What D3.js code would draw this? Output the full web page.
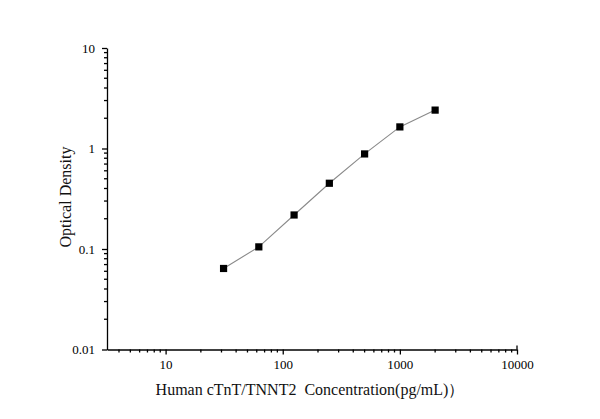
<!DOCTYPE html>
<html lang="en">

<head>
  <meta charset="UTF-8">
  <script src="https://cdn.jsdelivr.net/npm/d3@7"></script>
  <title>Standard curve</title>
  <style>
    body {
      margin: 0;
      background: white;
    }

    text {
      font-family: "Liberation Serif", "Times New Roman", serif;
      fill: #111;
      white-space: pre;
    }

    .axis path,
    .axis line {
      stroke: #000;
      stroke-width: 1.3;
    }
  </style>
</head>

<body>

  <script>
    // standard curve points
    const concentration = [31.25, 62.5, 125, 250, 500, 1000, 2000];
    const density = [0.064, 0.105, 0.218, 0.451, 0.883, 1.64, 2.41];
    const xTicks = [10, 100, 1000, 10000];
    const yTicks = [0.01, 0.1, 1, 10];

    const width = 600, height = 419;
    const serif = '"Liberation Serif", "Times New Roman", serif';
    const svg = d3.select('body').append('svg')
      .attr('width', width)
      .attr('height', height)

    const x = d3.scaleLog().domain([3.16, 10000]).range([107, 517]);
    const y = d3.scaleLog().domain([0.01, 10]).range([349.5, 48]);

    // minor ticks 2..9 of each decade
    const minor = (lo, hi) => {
      const out = [];
      for (let p = Math.floor(Math.log10(lo)); p < Math.log10(hi); p++) {
        for (let k = 2; k < 10; k++) {
          const v = k * Math.pow(10, p);
          if (v >= lo && v <= hi) out.push(v);
        }
      }
      return out;
    };

    /******************** axes ********************/
    const xAxis = svg.append('g').attr('class', 'axis')
      .attr('transform', `translate(0,${y.range()[0]})`)
      .call(d3.axisBottom(x).tickValues(xTicks).tickSize(5).tickSizeOuter(0).tickFormat(d3.format('d')))
      .attr('font-family', serif).attr('font-size', 13);
    xAxis.selectAll('text').attr('dy', '0.86em').style('fill', '#000');
    xAxis.append('g').selectAll('line').data(minor(3.16, 10000)).enter()
      .append('line')
      .attr('x1', d => x(d)).attr('x2', d => x(d))
      .attr('y1', 0).attr('y2', 3);
    // short stub at the right end
    xAxis.append('line').attr('x1', x(10000)).attr('x2', x(10000)).attr('y1', -4).attr('y2', 0);

    const yAxis = svg.append('g').attr('class', 'axis')
      .attr('transform', `translate(${x.range()[0]},0)`)
      .call(d3.axisLeft(y).tickValues(yTicks).tickSize(5).tickSizeOuter(0).tickFormat(d => String(d)))
      .attr('font-family', serif).attr('font-size', 13);
    yAxis.selectAll('text').attr('dx', '-0.3em').style('fill', '#000');
    yAxis.append('g').selectAll('line').data(minor(0.01, 10)).enter()
      .append('line')
      .attr('x1', 0).attr('x2', -3)
      .attr('y1', d => y(d)).attr('y2', d => y(d));

    /******************** titles ********************/
    svg.append('text')
      .attr('x', 310).attr('y', 395)
      .attr('text-anchor', 'middle')
      .attr('font-size', 16)
      .text('Human cTnT/TNNT2  Concentration(pg/mL)）');

    svg.append('text')
      .attr('transform', 'translate(70.5,197) rotate(-90)')
      .attr('text-anchor', 'middle')
      .attr('font-size', 16)
      .text('Optical Density');

    /******************** curve ********************/
    const pts = concentration.map((c, i) => ({ c, od: density[i] }));

    svg.append('path')
      .datum(pts)
      .attr('fill', 'none')
      .attr('stroke', '#8a8a8a')
      .attr('stroke-width', 1.1)
      .attr('d', d3.line().x(d => x(d.c)).y(d => y(d.od)));

    svg.append('g').selectAll('rect').data(pts).enter()
      .append('rect')
      .attr('x', d => x(d.c) - 3.6)
      .attr('y', d => y(d.od) - 3.6)
      .attr('width', 7.2).attr('height', 7.2)
      .attr('fill', '#000');
  </script>
</body>

</html>
